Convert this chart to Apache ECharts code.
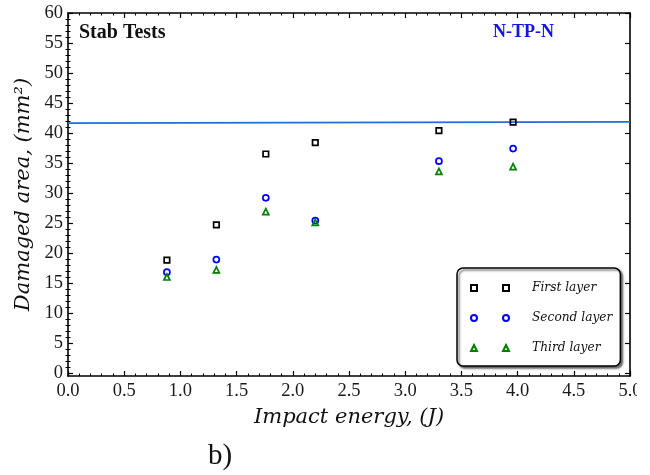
<!DOCTYPE html>
<html>
<head>
<meta charset="utf-8">
<script src="https://cdn.jsdelivr.net/npm/echarts@6/dist/echarts.min.js"></script>
<style>
html,body{margin:0;padding:0;background:#fff;}
#c{width:650px;height:475px;}
</style>
</head>
<body>
<div id="c"></div>
<script>
// ---- data ----
const impactEnergy = [0.88, 1.32, 1.76, 2.20, 3.30, 3.96];
const firstLayer  = [18.8, 24.7, 36.5, 38.4, 40.4, 41.8];
const secondLayer = [16.8, 18.9, 29.2, 25.4, 35.3, 37.4];
const thirdLayer  = [16.0, 17.2, 26.9, 25.1, 33.6, 34.4];
const refLineX = [0, 5];
const refLineY = [41.65, 41.85];
const yTickLabels = [0, 5, 10, 15, 20, 25, 30, 35, 40, 45, 50, 55, 60];
const seriesNames = ['First layer', 'Second layer', 'Third layer'];

const yMinorTicks = [];
for (let v = 0; v <= 60; v++) { if (v % 5 !== 0) yMinorTicks.push(v); }

const pts = (xs, ys) => xs.map((x, i) => [x, ys[i]]);

const tickFont = { fontFamily: 'Liberation Serif', fontSize: 18.5, color: '#1a1a1a' };
const lineStyle = { color: '#000', width: 1.6 };

function xAx(pos, showLabel) {
  return {
    type: 'value', position: pos, min: 0, max: 5, interval: 0.5,
    axisLine: { show: true, onZero: false, lineStyle },
    axisTick: { show: true, inside: true, length: 5, lineStyle: { color: '#000', width: 1.2 } },
    minorTick: { show: true, splitNumber: 5, length: 2.5, lineStyle: { color: '#000', width: 1 } },
    axisLabel: Object.assign({ show: showLabel, margin: 6, formatter: v => v.toFixed(1) }, tickFont),
    splitLine: { show: false }, minorSplitLine: { show: false }
  };
}
function yMajor(pos, showLabel) {
  return {
    type: 'value', position: pos, min: -0.5, max: 60,
    axisLine: { show: true, onZero: false, lineStyle },
    axisTick: { show: true, inside: true, length: 5, customValues: yTickLabels, lineStyle: { color: '#000', width: 1.2 } },
    axisLabel: Object.assign({ show: showLabel, margin: 5, customValues: yTickLabels }, tickFont),
    splitLine: { show: false }
  };
}
function yMinor(pos) {
  return {
    type: 'value', position: pos, min: -0.5, max: 60,
    axisLine: { show: false },
    axisTick: { show: true, inside: true, length: 2.5, customValues: yMinorTicks, lineStyle: { color: '#000', width: 1 } },
    axisLabel: { show: false },
    splitLine: { show: false }
  };
}

const xMain = xAx('bottom', true);
xMain.name = 'Impact energy, (J)';
xMain.nameLocation = 'middle';
xMain.nameGap = 31;
xMain.nameTextStyle = { fontFamily: 'DejaVu Serif', fontStyle: 'italic', fontSize: 21, color: '#111' };

const yMain = yMajor('left', true);
yMain.name = 'Damaged area, (mm²)';
yMain.nameLocation = 'middle';
yMain.nameGap = 31;
yMain.nameTextStyle = { fontFamily: 'DejaVu Serif', fontStyle: 'italic', fontSize: 21, color: '#111' };

const markerColors = ['#000000', '#0000ff', '#008000'];
const markerSymbols = ['rect', 'circle', 'triangle'];
const markerSizes = [5.5, 6, 6];
const legendIcons = [
  'path://M0,0h6v6h-6zM32,0h6v6h-6z',
  'path://M0,3a3,3 0 1,0 6,0a3,3 0 1,0 -6,0zM32,3a3,3 0 1,0 6,0a3,3 0 1,0 -6,0z',
  'path://M3,0L6,6H0zM35,0L38,6H32z'
];
const layerData = [firstLayer, secondLayer, thirdLayer];

const series = [{
  type: 'line', name: 'ref', data: pts(refLineX, refLineY), showSymbol: false, symbol: 'none',
  xAxisIndex: 0, yAxisIndex: 0, z: 1,
  lineStyle: { color: '#1f6fd6', width: 1.6 }, silent: true
}];
seriesNames.forEach((n, i) => {
  series.push({
    type: 'scatter', name: n, data: pts(impactEnergy, layerData[i]),
    xAxisIndex: 0, yAxisIndex: 0, z: 3,
    symbol: markerSymbols[i], symbolSize: markerSizes[i],
    itemStyle: { color: 'rgba(255,255,255,0)', borderColor: markerColors[i], borderWidth: 1.7, opacity: 1 }
  });
});

const chart = echarts.init(document.getElementById('c'), null, { renderer: 'canvas' });
chart.setOption({
  animation: false,
  backgroundColor: '#fff',
  grid: { left: 68, right: 20, top: 13, bottom: 99, containLabel: false },
  xAxis: [xMain, xAx('top', false)],
  yAxis: [yMain, yMajor('right', false), yMinor('left'), yMinor('right')],
  legend: {
    orient: 'vertical', left: 457, top: 268,
    padding: [14, 8, 12, 13],
    itemWidth: 38, itemHeight: 6, itemGap: 18,
    data: seriesNames.map((n, i) => ({ name: n, icon: legendIcons[i] })),
    formatter: n => '{a|' + n + '}',
    textStyle: {
      rich: { a: { fontFamily: 'DejaVu Serif', fontStyle: 'italic', fontSize: 12.2, color: '#111', padding: [0, 0, 0, 18], width: 80 } }
    },
    backgroundColor: '#fff', borderColor: '#000', borderWidth: 1.5, borderRadius: 6,
    shadowBlur: 2, shadowColor: 'rgba(0,0,0,0.55)', shadowOffsetX: 2, shadowOffsetY: 2,
    selectedMode: false
  },
  graphic: [
    { type: 'text', left: 79, top: 23, z: 10, style: { text: 'Stab Tests', font: 'bold 20px "Liberation Serif"', fill: '#111' } },
    { type: 'text', left: 493, top: 23, z: 10, style: { text: 'N-TP-N', font: 'bold 18px "Liberation Serif"', fill: '#1414e6' } },
    { type: 'text', left: 208, top: 442, z: 10, style: { text: 'b)', font: '29px "Liberation Serif"', fill: '#111' } },
    { type: 'rect', left: 637, top: 380, z: 100, shape: { width: 13, height: 22 }, style: { fill: '#fff' } }
  ],
  series
});
</script>
</body>
</html>
